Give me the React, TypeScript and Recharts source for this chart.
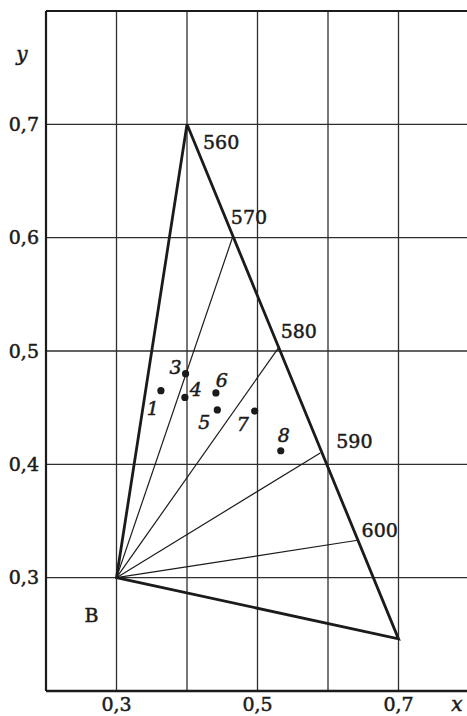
import React from 'react';
import { ScatterChart, Scatter, XAxis, YAxis, CartesianGrid, ReferenceLine, ReferenceDot } from 'recharts';

// x–y chromaticity plot: spectral edge 560–600 nm, white point B and samples

const xTicks = [0.2, 0.3, 0.4, 0.5, 0.6, 0.7, 0.8];
const yTicks = [0.2, 0.3, 0.4, 0.5, 0.6, 0.7, 0.8];
const xLabelled = [0.3, 0.5, 0.7];
const yLabelled = [0.3, 0.4, 0.5, 0.6, 0.7];

// white point B
const whiteX = 0.3;
const whiteY = 0.3;

// triangle outline (closed)
const cornerX = [0.4, 0.7, 0.3, 0.4];
const cornerY = [0.7, 0.246, 0.3, 0.7];

// points on the spectral edge
const wavelengths = [560, 570, 580, 590, 600];
const locusX = [0.4, 0.465, 0.53, 0.589, 0.642];
const locusY = [0.7, 0.601, 0.503, 0.41, 0.333];

// measured samples (no. 2 is not shown)
const sampleIds = ['1', '3', '4', '5', '6', '7', '8'];
const sampleX = [0.363, 0.398, 0.397, 0.443, 0.441, 0.496, 0.533];
const sampleY = [0.465, 0.48, 0.459, 0.448, 0.463, 0.447, 0.412];

const INK = '#1b1b1b';
const FONT = '"DejaVu Serif", serif';
// slight stroke to get the heavier print look
const heavy = { stroke: INK, strokeWidth: 0.5 };

// label placement relative to the point, px
const wlOffset: Record<number, [number, number]> = {
  560: [16, 25],
  570: [-2, -13],
  580: [2, -10],
  590: [16, -5],
  600: [4, -3],
};
const idOffset: Record<string, [number, number]> = {
  '1': [-8, 24],
  '3': [-10, 0],
  '4': [11, -1],
  '5': [-13, 19],
  '6': [6, -6],
  '7': [-12, 20],
  '8': [3, -9],
};

const comma = (v: number) => v.toFixed(1).replace('.', ',');

export default function App() {
  const triangle = cornerX.map((x, i) => ({ x, y: cornerY[i] }));
  const locus = wavelengths.map((w, i) => ({ x: locusX[i], y: locusY[i], w }));
  const samples = sampleIds.map((id, i) => ({ x: sampleX[i], y: sampleY[i], id }));

  const tickStyle = { fill: INK, fontSize: 19, fontFamily: FONT, ...heavy };

  return (
    <div style={{ position: 'absolute', left: 0, top: 0, width: 467, height: 716, overflow: 'hidden', background: '#fff' }}>
      <ScatterChart width={469} height={716} margin={{ top: 11, right: 0, bottom: 0, left: 0 }}>
        <CartesianGrid stroke="#2e2e2e" strokeWidth={1.3} />
        <XAxis
          dataKey="x"
          type="number"
          domain={[0.2, 0.8]}
          ticks={xTicks}
          interval={0}
          height={25}
          tickSize={0}
          tickMargin={7}
          tick={tickStyle}
          tickFormatter={(v: number) => (xLabelled.some((t) => Math.abs(t - v) < 1e-6) ? comma(v) : '')}
          axisLine={{ stroke: INK, strokeWidth: 2.4 }}
          tickLine={false}
          allowDataOverflow
        />
        <YAxis
          dataKey="y"
          type="number"
          domain={[0.2, 0.8]}
          ticks={yTicks}
          interval={0}
          width={46}
          tickSize={0}
          tickMargin={7}
          tick={tickStyle}
          tickFormatter={(v: number) => (yLabelled.some((t) => Math.abs(t - v) < 1e-6) ? comma(v) : '')}
          axisLine={{ stroke: INK, strokeWidth: 2.2 }}
          tickLine={false}
          allowDataOverflow
        />
        <ReferenceLine y={0.8} stroke={INK} strokeWidth={2.2} />

        {locus.slice(1).map((p) => (
          <ReferenceLine
            key={p.w}
            segment={[{ x: whiteX, y: whiteY }, { x: p.x, y: p.y }]}
            stroke={INK}
            strokeWidth={1.2}
          />
        ))}

        <Scatter
          data={triangle}
          line={{ stroke: INK, strokeWidth: 2.8 }}
          shape={() => <g />}
          isAnimationActive={false}
        />

        <Scatter
          data={locus}
          isAnimationActive={false}
          shape={(p: any) => {
            const [dx, dy] = wlOffset[p.payload.w];
            return (
              <text x={p.cx + dx} y={p.cy + dy} fontFamily={FONT} fontSize={19} fill={INK} {...heavy}>
                {p.payload.w}
              </text>
            );
          }}
        />

        <Scatter
          data={samples}
          isAnimationActive={false}
          shape={(p: any) => {
            const [dx, dy] = idOffset[p.payload.id];
            return (
              <g>
                <circle cx={p.cx} cy={p.cy} r={3.6} fill={INK} />
                <text
                  x={p.cx + dx}
                  y={p.cy + dy}
                  textAnchor="middle"
                  fontFamily={FONT}
                  fontStyle="italic"
                  fontSize={19}
                  fill={INK}
                  {...heavy}
                >
                  {p.payload.id}
                </text>
              </g>
            );
          }}
        />

        <ReferenceDot
          x={whiteX}
          y={whiteY}
          r={0}
          stroke="none"
          label={(props: any) => {
            const vb = props.viewBox;
            return (
              <text x={vb.x - 25} y={vb.y + 44} textAnchor="middle" fontFamily={FONT} fontSize={19} fill={INK} {...heavy}>
                B
              </text>
            );
          }}
        />
      </ScatterChart>

      <svg width={467} height={716} style={{ position: 'absolute', left: 0, top: 0, pointerEvents: 'none' }}>
        <text x={22} y={61} textAnchor="middle" fontFamily={FONT} fontStyle="italic" fontSize={20} fill={INK} {...heavy}>
          y
        </text>
        <text x={457} y={711} textAnchor="middle" fontFamily={FONT} fontStyle="italic" fontSize={20} fill={INK} {...heavy}>
          x
        </text>
      </svg>
    </div>
  );
}
